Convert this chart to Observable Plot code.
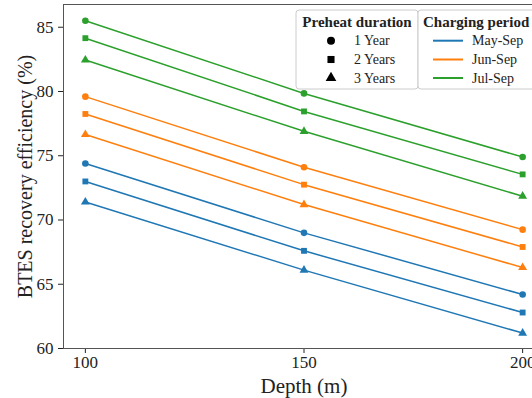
<!DOCTYPE html>
<html><head><meta charset="utf-8">
<script src="https://cdn.jsdelivr.net/npm/d3@7"></script>
<script src="https://cdn.jsdelivr.net/npm/@observablehq/plot@0.6"></script>
<style>
html,body{margin:0;padding:0;overflow:hidden;background:#fff}
#wrap{width:532px;height:398px;overflow:hidden;position:relative}
#wrap svg{max-width:none !important;width:544px;height:398px}
</style></head><body><div id="wrap"></div>
<script>
const depths = [100, 150, 200];
const periods = ["May-Sep", "Jun-Sep", "Jul-Sep"];
const durations = ["1 Year", "2 Years", "3 Years"];
// efficiency (%) per duration (rows) and depth (columns)
const maySep = [[74.4, 69.0, 64.2], [73.0, 67.6, 62.8], [71.4, 66.1, 61.2]];
const junSep = [[79.6, 74.1, 69.25], [78.25, 72.75, 67.9], [76.65, 71.2, 66.3]];
const julSep = [[85.5, 79.85, 74.9], [84.15, 78.45, 73.55], [82.45, 76.9, 71.85]];
const xTicks = [100, 150, 200];
const yTicks = [60, 65, 70, 75, 80, 85];
const colors = ["#1f77b4", "#ff7f0e", "#2ca02c"];

const series = [maySep, junSep, julSep];
const rows = [];
periods.forEach((p, pi) => durations.forEach((d, di) => depths.forEach((x, xi) => {
  rows.push({depth: x, eff: series[pi][di][xi], period: p, duration: d, key: p + "|" + d});
})));

const font = "'Liberation Serif', 'DejaVu Serif', serif";
const chart = Plot.plot({
  width: 544, height: 398,
  marginLeft: 63, marginRight: 0, marginTop: 4, marginBottom: 50,
  style: {fontFamily: font, fontSize: "17px", color: "#222", background: "white", maxWidth: "none"},
  x: {domain: [95, 205], ticks: xTicks, tickSize: 5, tickPadding: 2, label: null},
  y: {domain: [60, 86.77], ticks: yTicks, tickSize: 5, tickPadding: 5, label: null},
  color: {domain: periods, range: colors},
  symbol: {domain: durations, range: ["circle", "square", "triangle"]},
  marks: [
    Plot.line(rows, {x: "depth", y: "eff", z: "key", stroke: "period", strokeWidth: 1.5}),
    Plot.dot(rows, {x: "depth", y: "eff", fill: "period", symbol: "duration", r: 3.3}),
    Plot.frame({stroke: "#555", strokeWidth: 1}),
    Plot.text(["Depth (m)"], {frameAnchor: "bottom", dy: 38, text: d => d, fontSize: 21, lineAnchor: "middle", fill: "#222"}),
    Plot.text(["BTES recovery efficiency (%)"], {frameAnchor: "left", dx: -38, rotate: -90, text: d => d, fontSize: 20, lineAnchor: "middle", textAnchor: "middle", fill: "#222"})
  ]
});
chart.style.maxWidth = "none";
document.getElementById("wrap").appendChild(chart);

// legends
const svg = d3.select(chart);
const g = svg.append("g").attr("font-family", font).attr("fill", "#222").attr("text-anchor", "start");
g.append("rect").attr("x", 296).attr("y", 10).attr("width", 122).attr("height", 79).attr("rx", 3)
  .attr("fill", "white").attr("fill-opacity", 0.85).attr("stroke", "#ccc");
g.append("rect").attr("x", 418).attr("y", 10).attr("width", 130).attr("height", 79).attr("rx", 3)
  .attr("fill", "white").attr("fill-opacity", 0.85).attr("stroke", "#ccc");
g.append("text").attr("x", 357).attr("y", 21.5).attr("dominant-baseline", "central").attr("text-anchor", "middle")
  .attr("font-weight", "bold").attr("font-size", 15).text("Preheat duration");
g.append("text").attr("x", 423).attr("y", 21.5).attr("dominant-baseline", "central").attr("text-anchor", "start")
  .attr("font-weight", "bold").attr("font-size", 15).text("Charging period");
const rowY = [40.7, 59.5, 78];
const syms = [d3.symbolCircle, d3.symbolSquare, d3.symbolTriangle];
durations.forEach((d, i) => {
  g.append("path").attr("transform", `translate(331,${rowY[i]})`)
    .attr("d", d3.symbol().type(syms[i]).size(50)()).attr("fill", "#000");
  g.append("text").attr("x", 354).attr("y", rowY[i]).attr("dominant-baseline", "central").attr("text-anchor", "start")
    .attr("font-size", 14).text(d);
});
periods.forEach((p, i) => {
  g.append("line").attr("x1", 433).attr("x2", 463).attr("y1", rowY[i]).attr("y2", rowY[i])
    .attr("stroke", colors[i]).attr("stroke-width", 2);
  g.append("text").attr("x", 472).attr("y", rowY[i]).attr("dominant-baseline", "central").attr("text-anchor", "start")
    .attr("font-size", 14).text(p);
});
</script></body></html>
